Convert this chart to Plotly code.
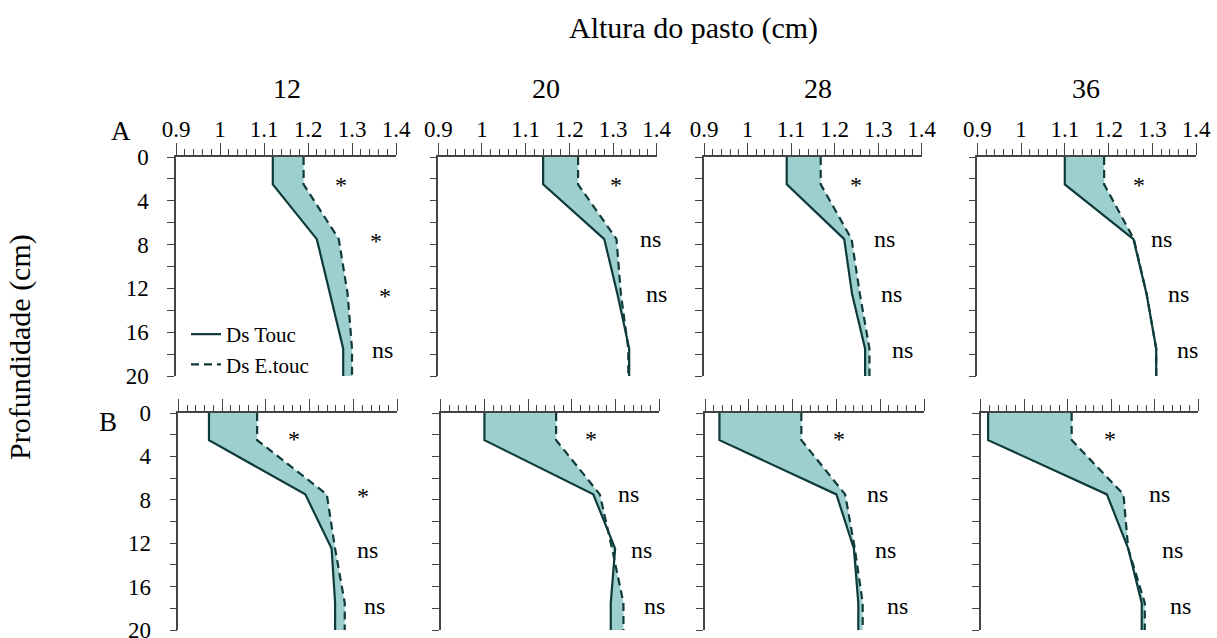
import plotly.graph_objects as go

# ---------------- data ----------------
depth = [0, 2.5, 7.5, 12.5, 17.5, 20]          # Profundidade (cm)
heights = ["12", "20", "28", "36"]             # Altura do pasto (cm)
rows = ["A", "B"]

# Row A
touc_A12 = [1.12, 1.12, 1.22, 1.25, 1.28, 1.28]
etouc_A12 = [1.19, 1.19, 1.27, 1.29, 1.30, 1.30]
touc_A20 = [1.14, 1.14, 1.28, 1.31, 1.337, 1.337]
etouc_A20 = [1.22, 1.22, 1.308, 1.318, 1.335, 1.335]
touc_A28 = [1.09, 1.09, 1.222, 1.24, 1.27, 1.27]
etouc_A28 = [1.168, 1.168, 1.239, 1.258, 1.28, 1.28]
touc_A36 = [1.10, 1.10, 1.257, 1.287, 1.309, 1.309]
etouc_A36 = [1.19, 1.19, 1.258, 1.287, 1.309, 1.309]
# Row B
touc_B12 = [0.97, 0.97, 1.19, 1.25, 1.258, 1.258]
etouc_B12 = [1.08, 1.08, 1.239, 1.258, 1.28, 1.28]
touc_B20 = [1.0, 1.0, 1.249, 1.299, 1.289, 1.289]
etouc_B20 = [1.164, 1.164, 1.264, 1.292, 1.318, 1.318]
touc_B28 = [0.933, 0.933, 1.20, 1.24, 1.25, 1.25]
etouc_B28 = [1.12, 1.12, 1.22, 1.242, 1.26, 1.26]
touc_B36 = [0.917, 0.917, 1.19, 1.239, 1.27, 1.27]
etouc_B36 = [1.109, 1.109, 1.228, 1.239, 1.277, 1.277]

# significance labels per layer (0-5, 5-10, 10-15, 15-20 cm)
sig_A12 = ["*", "*", "*", "ns"]
sig_A20 = ["*", "ns", "ns", "ns"]
sig_A28 = ["*", "ns", "ns", "ns"]
sig_A36 = ["*", "ns", "ns", "ns"]
sig_B12 = ["*", "*", "ns", "ns"]
sig_B20 = ["*", "ns", "ns", "ns"]
sig_B28 = ["*", "ns", "ns", "ns"]
sig_B36 = ["*", "ns", "ns", "ns"]

x_ticks_min, x_ticks_max = 0.9, 1.4

# ---------------- layout helpers (positions / styles) ----------------
W, H = 1217, 638
LINE = "#0e3b3a"
FILL = "#9ccfcd"
AX = "#444444"
FONT = "Liberation Serif"

panels = [
    (touc_A12, etouc_A12, sig_A12), (touc_A20, etouc_A20, sig_A20),
    (touc_A28, etouc_A28, sig_A28), (touc_A36, etouc_A36, sig_A36),
    (touc_B12, etouc_B12, sig_B12), (touc_B20, etouc_B20, sig_B20),
    (touc_B28, etouc_B28, sig_B28), (touc_B36, etouc_B36, sig_B36),
]
# pixel domains of each panel
xdom_px = [(176, 396), (438.3, 656.7), (704, 921.7), (977.3, 1196),
           (178.3, 397.3), (440.7, 659.3), (705, 924), (980.7, 1198.3)]
ydom_px = [(157, 376)] * 4 + [(413, 630)] * 4
# label placement (x in data units, y depth)
lab_x = [
    [1.275, 1.355, 1.375, 1.37],
    [1.307, 1.385, 1.40, 1.415],
    [1.25, 1.315, 1.33, 1.355],
    [1.27, 1.32, 1.36, 1.38],
    [1.164, 1.322, 1.331, 1.349],
    [1.244, 1.33, 1.36, 1.39],
    [1.206, 1.293, 1.313, 1.34],
    [1.197, 1.31, 1.34, 1.36],
]
lab_y_top = [2.4, 7.5, 12.5, 17.6]
lab_y_bot = [2.2, 7.5, 12.6, 17.8]

fig = go.Figure()
annotations = []
layout_axes = {}

for i, (touc, etouc, sig) in enumerate(panels):
    n = "" if i == 0 else str(i + 1)
    xr, yr = "x" + n, "y" + n
    # shaded area between the two curves
    fig.add_trace(go.Scatter(
        x=touc + etouc[::-1], y=depth + depth[::-1], xaxis=xr, yaxis=yr,
        fill="toself", fillcolor=FILL, line=dict(width=0), mode="lines",
        showlegend=False, hoverinfo="skip"))
    fig.add_trace(go.Scatter(
        x=touc, y=depth, xaxis=xr, yaxis=yr, mode="lines",
        line=dict(color=LINE, width=2.2), name="Ds Touc",
        showlegend=(i == 0), legendgroup="t"))
    fig.add_trace(go.Scatter(
        x=etouc, y=depth, xaxis=xr, yaxis=yr, mode="lines",
        line=dict(color=LINE, width=2.2, dash="8px,5px"), name="Ds E.touc",
        showlegend=(i == 0), legendgroup="e"))

    row, col = divmod(i, 4)
    x0, x1 = xdom_px[i]
    y0, y1 = ydom_px[i]
    layout_axes["xaxis" + n] = dict(
        domain=[x0 / W, x1 / W], range=[x_ticks_min, x_ticks_max],
        anchor=yr, side="top", showline=True, linecolor=AX, linewidth=1.5,
        ticks="outside", tick0=0.9, dtick=0.1, ticklen=12, tickwidth=1.3,
        tickcolor=AX, showgrid=False, zeroline=False, automargin=False,
        showticklabels=(row == 0), tickfont=dict(size=23, color="black"),
        ticklabelstandoff=-3, ticklabeloverflow="allow",
        minor=dict(ticks="outside", dtick=0.02, tick0=0.9, ticklen=6,
                   tickwidth=1.1, tickcolor=AX, showgrid=False),
    )
    layout_axes["yaxis" + n] = dict(
        domain=[1 - y1 / H, 1 - y0 / H], range=[20, 0], anchor=xr,
        showline=True, linecolor=AX, linewidth=1.5, ticks="outside",
        tick0=0, dtick=4, ticklen=7, tickwidth=1.3, tickcolor=AX,
        showgrid=False, zeroline=False, showticklabels=(col == 0),
        automargin=False, ticklabeloverflow="allow",
        tickfont=dict(size=23, color="black"), ticklabelstandoff=14,
        minor=dict(ticks="outside", dtick=2, tick0=0, ticklen=7,
                   tickwidth=1.3, tickcolor=AX, showgrid=False),
    )
    ly = lab_y_top if row == 0 else lab_y_bot
    for k, s in enumerate(sig):
        annotations.append(dict(
            x=lab_x[i][k], y=ly[k], xref=xr, yref=yr, text=s,
            xanchor="center", yanchor="middle",
            showarrow=False, font=dict(size=24, color="black", family=FONT),
            yshift=(-2 if s == "*" else 0)))


def paper_text(text, px, py, size, angle=0):
    return dict(x=px / W, y=1 - py / H, xref="paper", yref="paper",
                xanchor="center", yanchor="middle", text=text,
                showarrow=False, textangle=angle,
                font=dict(size=size, color="black", family=FONT))


# headers (pasture heights)
head_x = [287, 546, 818, 1086]
for h, hx in zip(heights, head_x):
    annotations.append(paper_text(h, hx, 88, 28))
annotations.append(paper_text("Altura do pasto (cm)", 693, 28, 30))
annotations.append(paper_text("Profundidade (cm)", 20, 347, 30, angle=-90))
for r, (rx, ry) in zip(rows, [(121, 131), (108, 422)]):
    annotations.append(paper_text(r, rx, ry, 27))

fig.update_layout(
    template="none",
    width=W, height=H, autosize=False,
    margin=dict(l=0, r=0, t=0, b=0, pad=0),
    paper_bgcolor="white", plot_bgcolor="rgba(0,0,0,0)",
    font=dict(family=FONT, color="black"),
    annotations=annotations,
    legend=dict(x=186 / W, y=1 - 314 / H, xanchor="left", yanchor="top",
                bgcolor="rgba(0,0,0,0)", font=dict(size=21, color="black"),
                tracegroupgap=0),
    **layout_axes,
)

fig.write_html("out.html")
